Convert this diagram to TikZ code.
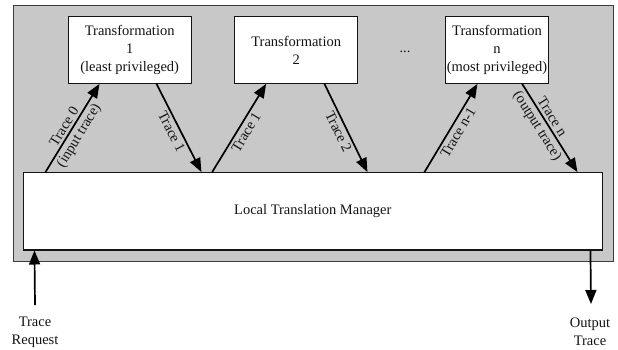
\documentclass[tikz,border=0pt]{standalone}
\usepackage{fontspec}
\setmainfont{Liberation Serif}
\usetikzlibrary{arrows.meta,calc}
\definecolor{framegray}{RGB}{200,200,200}
\definecolor{edgegray}{RGB}{60,60,60}
\definecolor{inkc}{RGB}{20,20,20}
\tikzset{
  txt/.style={font=\fontsize{14.5}{18}\selectfont, text=inkc},
  tbox/.style={txt, draw=inkc, line width=1.1pt, fill=white, align=center, minimum height=66.6pt, inner sep=0pt},
  flow/.style={line width=1.7pt, draw=black, -{Triangle[length=14pt,width=11pt]}, shorten >=0pt},
  lab/.style={txt, sloped, midway, inner sep=2.5pt},
}
\begin{document}
\begin{tikzpicture}[x=1pt,y=-1pt]
\useasboundingbox (0,0) rectangle (618,349);
\node[draw=edgegray, line width=1.3pt, fill=framegray, minimum width=600pt, minimum height=255.7pt, inner sep=0pt, anchor=north west] (frame) at (12.7,5) {};
\node[tbox, minimum width=122.7pt] (b1) at (129.7,50) {Transformation\\1\\(least privileged)};
\node[tbox, minimum width=123pt] (b2) at (296.2,50) {Transformation\\2};
\node[tbox, minimum width=102.6pt] (bn) at (497,50) {Transformation\\n\\(most privileged)};
\node[txt] (dots) at (405,52) {...};
\node[tbox, minimum width=579pt, minimum height=77.3pt] (ltm) at (312.8,211.3) {Local Translation Manager};
\node[txt, align=center] (req) at (35,332) {Trace\\Request};
\node[txt, align=center] (out) at (590,332) {Output\\Trace};
\coordinate (reqtop) at (35,305);
\coordinate (outtip) at (591,304);
% arrows
\draw[flow] ([xshift=22.7pt]ltm.north west) -- ([xshift=31.7pt]b1.south west)
  node[lab, above, pos=0.47] {Trace 0} node[lab, below, pos=0.47] {(input trace)};
\draw[flow] ([xshift=88.7pt]b1.south west) -- ([xshift=178.7pt]ltm.north west)
  node[lab, below] {Trace 1};
\draw[flow] ([xshift=189.4pt]ltm.north west) -- ([xshift=32pt]b2.south west)
  node[lab, below] {Trace 1};
\draw[flow] ([xshift=90.3pt]b2.south west) -- ([xshift=344.7pt]ltm.north west)
  node[lab, below] {Trace 2};
\draw[flow] ([xshift=401.7pt]ltm.north west) -- ([xshift=32.3pt]bn.south west)
  node[lab, below] {Trace n-1};
\draw[flow] ([xshift=77pt]bn.south west) -- ([xshift=554.7pt]ltm.north west)
  node[lab, above, pos=0.42] {Trace n} node[lab, below, pos=0.42] {(output trace)};
\draw[flow] (reqtop) -- ([xshift=11.7pt]ltm.south west);
\draw[flow] ([xshift=567.7pt]ltm.south west) -- (outtip);
\end{tikzpicture}
\end{document}
